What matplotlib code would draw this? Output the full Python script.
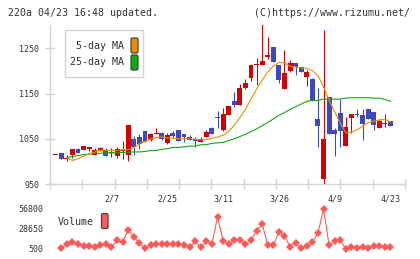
import numpy as np
import matplotlib
matplotlib.use("Agg")
import matplotlib.pyplot as plt
from matplotlib.patches import Rectangle, FancyBboxPatch
from matplotlib.transforms import Affine2D

plt.rcParams['font.family'] = ['DejaVu Sans Mono']

# daily candles, index 0..60
opens = [1015, 1019, 1005, 1015, 1028, 1026, 1027, 1015, 1024, 1026,
         1018, 1013, 1023, 1015, 1050, 1055, 1068, 1047, 1060, 1064,
         1041, 1064, 1069, 1061, 1054, 1049, 1044, 1055, 1073, 1099,
         1069, 1102, 1133, 1126, 1163, 1184, 1213, 1214, 1232, 1254,
         1213, 1160, 1200, 1217, 1210, 1186, 1183, 1093, 960, 1142,
         1070, 1108, 1035, 1096, 1106, 1102, 1115, 1110, 1075, 1083,
         1090]
highs = [1015, 1019, 1014, 1028, 1030, 1035, 1033, 1029, 1031, 1030,
         1030, 1031, 1045, 1080, 1056, 1061, 1068, 1064, 1073, 1066,
         1062, 1067, 1069, 1061, 1058, 1055, 1055, 1070, 1077, 1111,
         1119, 1122, 1153, 1171, 1182, 1213, 1230, 1310, 1275, 1254,
         1214, 1246, 1225, 1217, 1210, 1203, 1185, 1162, 1291, 1142,
         1074, 1139, 1099, 1106, 1117, 1117, 1115, 1110, 1095, 1104,
         1090]
lows = [1015, 1006, 1000, 1008, 1018, 1025, 1022, 1014, 1023, 1012,
        1009, 1007, 1006, 1002, 1014, 1028, 1044, 1046, 1060, 1047,
        1038, 1052, 1045, 1044, 1047, 1032, 1044, 1055, 1061, 1075,
        1067, 1102, 1121, 1126, 1160, 1178, 1169, 1214, 1226, 1220,
        1174, 1160, 1197, 1192, 1197, 1167, 1133, 1031, 950, 1060,
        1012, 1031, 1035, 1063, 1099, 1048, 1093, 1070, 1075, 1076,
        1079]
closes = [1015, 1006, 1007, 1028, 1018, 1034, 1032, 1025, 1030, 1013,
          1020, 1028, 1025, 1080, 1033, 1039, 1044, 1061, 1062, 1050,
          1059, 1057, 1046, 1053, 1047, 1045, 1049, 1066, 1061, 1096,
          1104, 1122, 1124, 1162, 1173, 1213, 1216, 1223, 1236, 1220,
          1180, 1195, 1217, 1209, 1197, 1198, 1133, 1079, 1050, 1060,
          1061, 1067, 1077, 1106, 1102, 1082, 1093, 1080, 1090, 1085,
          1079]

# moving averages, index 2..60
ma5 = [1008, 1002, 1006, 1012, 1017, 1021, 1025, 1025, 1024, 1024,
       1026, 1026, 1030, 1039, 1044, 1050, 1053, 1054, 1052, 1052,
       1050, 1050, 1050, 1049, 1048, 1048, 1051, 1054, 1058, 1066,
       1080, 1097, 1115, 1138, 1160, 1180, 1198, 1211, 1219, 1218,
       1211, 1209, 1207, 1206, 1201, 1190, 1165, 1135, 1110, 1085,
       1063, 1065, 1070, 1078, 1086, 1089, 1092, 1093, 1087]
ma25 = [1008, 1011, 1013, 1015, 1016, 1018, 1018, 1019, 1019, 1019,
        1020, 1020, 1021, 1021, 1022, 1024, 1024, 1027, 1028, 1031,
        1031, 1032, 1034, 1034, 1037, 1037, 1040, 1041, 1042, 1046,
        1050, 1055, 1060, 1066, 1072, 1079, 1086, 1094, 1102, 1108,
        1115, 1121, 1127, 1133, 1135, 1135, 1138, 1138, 1138, 1138,
        1140, 1141, 1141, 1141, 1141, 1140, 1140, 1137, 1133]

# volume, index 1..60
volume = [1420, 7420, 10650, 7420, 4650, 4650, 3730, 6040, 6960, 3730,
          12500, 10190, 26800, 17100, 8350, 1420, 6040, 7420, 7420, 7420,
          7420, 7420, 6500, 2810, 11110, 2810, 11110, 7420, 44340, 12040,
          7420, 12500, 12500, 7420, 12500, 25420, 35110, 5580, 5580, 23580,
          18500, 3270, 8350, 1420, 5120, 9730, 22190, 55880, 5580, 11110,
          12500, 500, 2810, 1420, 2810, 1420, 4650, 4650, 3270, 3730]

date_pos = [10, 20, 30, 40, 50, 60]
date_labels = ["2/7", "2/25", "3/11", "3/26", "4/9", "4/23"]
price_ticks = [950, 1050, 1150, 1250]
vol_ticks = [500, 28650, 56800]

RED = "#d40000"
BLUE = "#4048c0"
ORANGE = "#f08c00"
GREEN = "#10aa10"
VOLC = "#ff5a5a"
GRID = "#d4d4d4"
TXT = "#333333"

W, H = 420, 259
fig = plt.figure(figsize=(W / 100, H / 100), dpi=100)
px = Affine2D().scale(1 / W, -1 / H).translate(0, 1) + fig.transFigure


def box(l, t, r, b):
    return [l / W, 1 - b / H, (r - l) / W, (b - t) / H]


xmin, xmax = -1.02, 62.6

ax = fig.add_axes(box(50, 25, 405, 184))
o = np.array(opens)
hi = np.array(highs)
lo = np.array(lows)
c = np.array(closes)
idx = np.arange(len(o))
col = np.where(c >= o, RED, BLUE)
ax.vlines(idx, lo, hi, colors=col, lw=0.75, zorder=2)
ax.bar(idx, np.maximum(np.abs(c - o), 2), bottom=np.minimum(o, c),
       width=0.88, color=col, lw=0, zorder=2)

ma_idx = np.arange(2, 2 + len(ma5))
ax.plot(ma_idx, ma25, color=GREEN, lw=0.8, zorder=3)
ax.plot(ma_idx, ma5, color=ORANGE, lw=0.8, zorder=3)

ax.set_xlim(xmin, xmax)
ax.set_ylim(950, 1302)
for s in ["top", "right"]:
    ax.spines[s].set_visible(False)
for s in ["left", "bottom"]:
    ax.spines[s].set_color(GRID)
    ax.spines[s].set_linewidth(1)
ax.set_yticks(price_ticks)
ax.set_yticklabels([str(v) for v in price_ticks])
ax.set_xticks(np.linspace(xmin, xmax, 12))
ax.set_xticklabels([])
ax.set_xticks(date_pos, minor=True)
ax.set_xticklabels(date_labels, minor=True)
ax.tick_params(axis="both", which="major", direction="inout", length=6.5,
               width=1, color=GRID, labelsize=6, labelcolor=TXT)
ax.tick_params(axis="y", pad=4.5)
ax.tick_params(axis="x", which="minor", length=0, pad=7.5,
               labelsize=6, labelcolor=TXT)

axv = fig.add_axes(box(50, 205, 405, 252))
axv.plot(np.arange(1, 1 + len(volume)), volume, color=VOLC, lw=0.8,
         marker="D", markersize=3.6, markeredgewidth=0)
axv.set_xlim(xmin, xmax)
axv.set_ylim(-3620, 60920)
for s in axv.spines.values():
    s.set_visible(False)
axv.set_xticks([])
axv.set_yticks(vol_ticks)
axv.set_yticklabels([str(v) for v in vol_ticks])
axv.tick_params(axis="y", length=0, pad=5, labelsize=6, labelcolor=TXT)

fig.text(8 / W, 1 - 13 / H, "220a 04/23 16:48 updated.", fontsize=7.1,
         ha="left", va="center", color=TXT)
fig.text(410 / W, 1 - 13 / H, "(C)https://www.rizumu.net/", fontsize=7.1,
         ha="right", va="center", color=TXT)

# MA legend
fig.add_artist(Rectangle((65, 30), 78, 47, transform=px, fc="white",
                         ec=GRID, lw=1))
fig.text(124 / W, 1 - 46 / H, "5-day MA", fontsize=7.2, ha="right",
         va="center", color=TXT)
fig.text(124 / W, 1 - 62 / H, "25-day MA", fontsize=7.2, ha="right",
         va="center", color=TXT)
for y0, fc in [(38, ORANGE), (55, GREEN)]:
    fig.add_artist(FancyBboxPatch((131, y0), 7, 15, transform=px,
                                  boxstyle="round,pad=0,rounding_size=1.5",
                                  fc=fc, ec="#444444", lw=0.9))

# volume legend
fig.text(58 / W, 1 - 222 / H, "Volume", fontsize=7.2, ha="left",
         va="center", color=TXT)
fig.add_artist(FancyBboxPatch((101.5, 213.5), 6.5, 15, transform=px,
                              boxstyle="round,pad=0,rounding_size=1.5",
                              fc=VOLC, ec="#444444", lw=0.9))

fig.savefig("out.png", dpi=100)
